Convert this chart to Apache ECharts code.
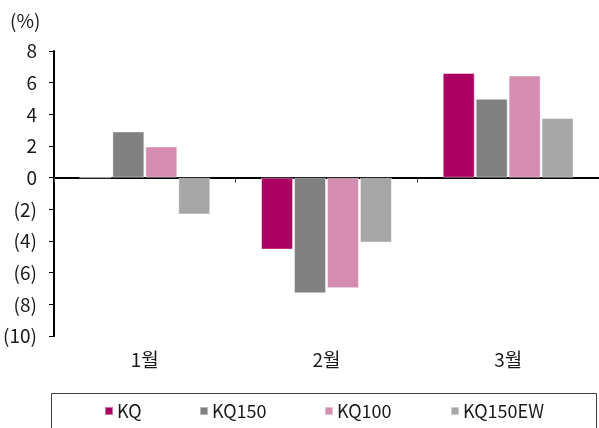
<!DOCTYPE html>
<html>
<head>
<meta charset="utf-8">
<script src="https://cdn.jsdelivr.net/npm/echarts@6/dist/echarts.min.js"></script>
<style>
  html, body { margin: 0; padding: 0; background: #fff; }
  #chart { width: 599px; height: 428px; }
</style>
</head>
<body>
<div id="chart"></div>
<script>
// Monthly returns (%) by index
const months = ['1월', '2월', '3월'];
const seriesNames = ['KQ', 'KQ150', 'KQ100', 'KQ150EW'];
const kq = [0, -4.54, 6.61];
const kq150 = [2.92, -7.30, 4.98];
const kq100 = [1.97, -6.98, 6.45];
const kq150ew = [-2.32, -4.10, 3.77];
const colors = ['#AB0062', '#808080', '#D48DB0', '#A6A6A6'];
const yTicks = { min: -10, max: 8, step: 2 };

const font = '"Noto Sans CJK KR", "Noto Sans", sans-serif';
const textColor = '#1a1a1a';
const values = [kq, kq150, kq100, kq150ew];

const chart = echarts.init(document.getElementById('chart'), null, { renderer: 'canvas' });

// one legend block per series so each entry sits at its own spot
const legendLeft = [104, 199, 324, 450];
const legends = seriesNames.map((name, i) => ({
  data: [name],
  left: legendLeft[i],
  top: 401,
  padding: 0,
  icon: 'rect',
  itemWidth: 8,
  itemHeight: 8,
  itemGap: 0,
  selectedMode: false,
  textStyle: { fontFamily: font, fontSize: 18, color: textColor, padding: [0, 0, 0, -1], lineHeight: 20 }
}));

chart.setOption({
  animation: false,
  color: colors,
  grid: { left: 54, right: 0, top: 51, bottom: 92, containLabel: false },
  legend: legends,
  graphic: [
    {
      type: 'rect',
      shape: { x: 51.5, y: 393.5, width: 545, height: 50 },
      style: { fill: 'none', stroke: '#404040', lineWidth: 1 },
      silent: true
    },
    {
      type: 'text',
      left: 10,
      top: 11,
      style: { text: '(%)', font: '19px ' + font, fill: textColor }
    }
  ],
  xAxis: [
    {
      type: 'category',
      data: months,
      axisLine: { onZero: true, lineStyle: { color: '#000', width: 2 } },
      axisTick: { show: true, length: 5, lineStyle: { color: '#404040', width: 1 } },
      axisLabel: { show: false },
      splitLine: { show: false }
    },
    {
      type: 'category',
      data: months,
      position: 'bottom',
      axisLine: { show: false, onZero: false },
      axisTick: { show: false },
      axisLabel: { margin: 14, fontFamily: font, fontSize: 19, color: textColor },
      splitLine: { show: false }
    }
  ],
  yAxis: {
    type: 'value',
    min: yTicks.min,
    max: yTicks.max,
    interval: yTicks.step,
    axisLine: { show: true, lineStyle: { color: '#000', width: 2 } },
    axisTick: { show: true, length: 5, lineStyle: { color: '#000', width: 1 } },
    splitLine: { show: false },
    axisLabel: {
      margin: 17,
      fontFamily: font,
      fontSize: 19,
      color: textColor,
      formatter: v => (v < 0 ? '(' + Math.abs(v) + ')' : String(v))
    }
  },
  series: seriesNames.map((name, i) => ({
    name,
    type: 'bar',
    xAxisIndex: 0,
    data: values[i],
    barWidth: 32,
    barGap: '3%',
    itemStyle: { color: colors[i], borderColor: 'rgba(255,255,255,0.45)', borderWidth: 1 }
  }))
});
</script>
</body>
</html>
